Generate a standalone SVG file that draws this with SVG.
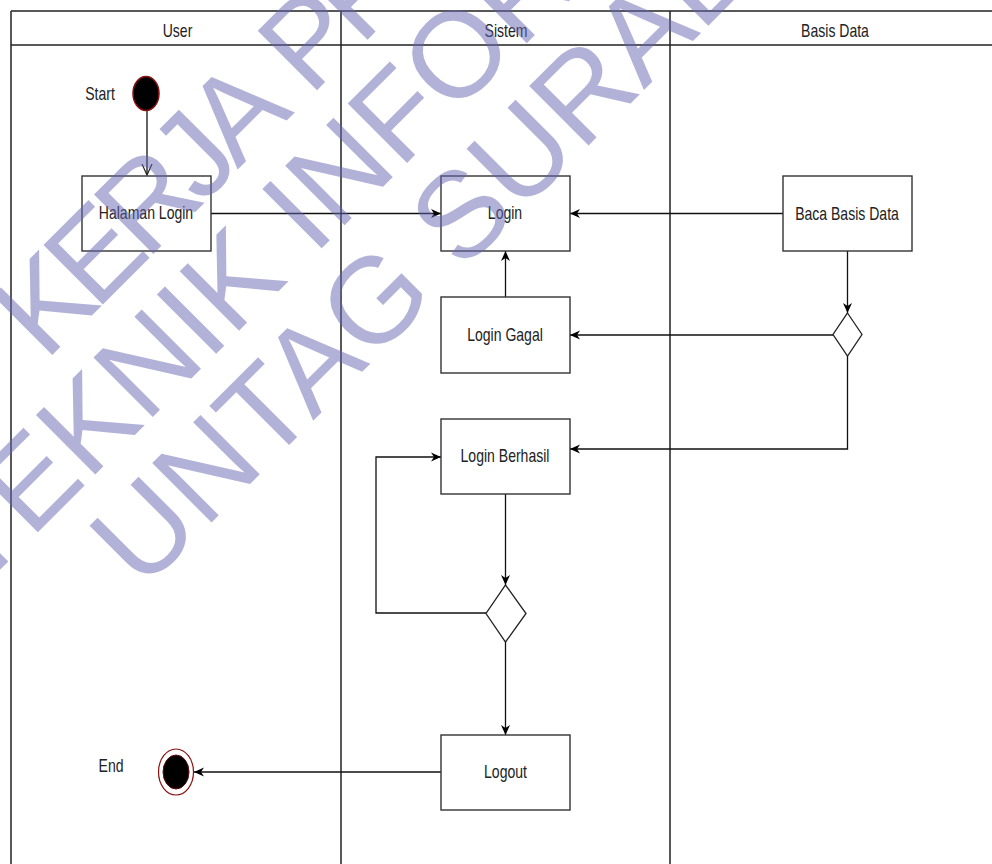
<svg xmlns="http://www.w3.org/2000/svg" width="992" height="864" viewBox="0 0 992 864">
<style>
.lane{stroke:#222;stroke-width:1.5;fill:none}
.box{fill:#fff;stroke:#333;stroke-width:1.4}
.dia{fill:#fff;stroke:#222;stroke-width:1.3}
.con{fill:none;stroke:#111;stroke-width:1.3}
.t{font-family:"Liberation Sans",Arial,sans-serif;font-size:18px;fill:#222;text-anchor:middle}
.wm{font-family:"Liberation Sans",Arial,sans-serif;font-size:122px;fill:#6666b3;fill-opacity:0.5}
</style>
<defs>
<marker id="arr" viewBox="0 0 10 10" refX="10" refY="5" markerWidth="10" markerHeight="10" markerUnits="userSpaceOnUse" orient="auto">
<path d="M0,0.5 L10,5 L0,9.5 L3,5 Z" fill="#000"/>
</marker>
<marker id="open" viewBox="0 0 12 12" refX="11" refY="6" markerWidth="12" markerHeight="12" markerUnits="userSpaceOnUse" orient="auto">
<path d="M0,1 L11,6 L0,11" fill="none" stroke="#222" stroke-width="1.2"/>
</marker>
</defs>
<rect width="992" height="864" fill="#fff"/>
<g id="lanes">
<path class="lane" d="M11,11 H992 M11,45 H992 M11,11 V864 M341,11 V864 M670,11 V864"/>
<text class="t" transform="translate(177.5,37) scale(0.78,1)">User</text>
<text class="t" transform="translate(506,37) scale(0.78,1)">Sistem</text>
<text class="t" transform="translate(835,37) scale(0.78,1)">Basis Data</text>
</g>
<g id="connectors">
<path class="con" d="M147,111 V175" marker-end="url(#open)"/>
<path class="con" d="M211,213.5 H441" marker-end="url(#arr)"/>
<path class="con" d="M783,213.5 H570" marker-end="url(#arr)"/>
<path class="con" d="M847.5,251 V313" marker-end="url(#arr)"/>
<path class="con" d="M833,335 H570" marker-end="url(#arr)"/>
<path class="con" d="M505.5,297 V251" marker-end="url(#arr)"/>
<path class="con" d="M847.5,356 V449 H570" marker-end="url(#arr)"/>
<path class="con" d="M505.5,494 V585" marker-end="url(#arr)"/>
<path class="con" d="M486,613 H376 V457 H441" marker-end="url(#arr)"/>
<path class="con" d="M505.5,642 V735" marker-end="url(#arr)"/>
<path class="con" d="M441,772 H194" marker-end="url(#arr)"/>
</g>
<g id="start">
<ellipse cx="146" cy="93.5" rx="13" ry="17" fill="#000" stroke="#8b1010" stroke-width="1.5"/>
<text class="t" transform="translate(100,100) scale(0.78,1)">Start</text>
</g>
<g id="halaman-login">
<rect class="box" x="82" y="176" width="129" height="75"/>
<text class="t" transform="translate(146,219) scale(0.78,1)">Halaman Login</text>
</g>
<g id="login">
<rect class="box" x="441" y="176" width="129" height="75"/>
<text class="t" transform="translate(505,218.5) scale(0.78,1)">Login</text>
</g>
<g id="baca-basis-data">
<rect class="box" x="783" y="176" width="129" height="75"/>
<text class="t" transform="translate(847,220) scale(0.78,1)">Baca Basis Data</text>
</g>
<g id="decision-1">
<path class="dia" d="M847.5,313 L862,334.5 L847.5,356 L833,334.5 Z"/>
</g>
<g id="login-gagal">
<rect class="box" x="441" y="297" width="129" height="76"/>
<text class="t" transform="translate(505,341) scale(0.78,1)">Login Gagal</text>
</g>
<g id="login-berhasil">
<rect class="box" x="441" y="419" width="129" height="75"/>
<text class="t" transform="translate(505,462) scale(0.78,1)">Login Berhasil</text>
</g>
<g id="decision-2">
<path class="dia" d="M505.5,585 L526,613.5 L505.5,642 L486,613.5 Z"/>
</g>
<g id="logout">
<rect class="box" x="441" y="735" width="129" height="75"/>
<text class="t" transform="translate(505.5,777.5) scale(0.78,1)">Logout</text>
</g>
<g id="end">
<ellipse cx="176" cy="772" rx="17.5" ry="23" fill="#fff" stroke="#8b1010" stroke-width="1.2"/>
<ellipse cx="176" cy="772" rx="13" ry="17" fill="#000" stroke="#6b0a0a" stroke-width="1"/>
<text class="t" transform="translate(111,772) scale(0.78,1)">End</text>
</g>
<g id="watermark" class="wm">
<text transform="rotate(-45)" x="-224" y="288" letter-spacing="-10" word-spacing="14">KERJA PR</text>
<text transform="rotate(-45)" x="-434" y="403">TEKNIK INFOR</text>
<text transform="rotate(-45)" x="-318" y="519">UNTAG SURAB</text>
</g>
</svg>
